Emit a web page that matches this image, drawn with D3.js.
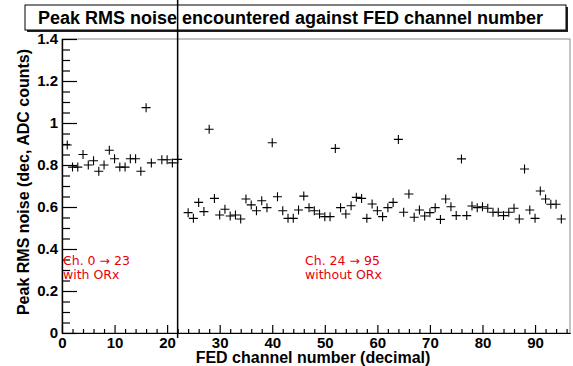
<!DOCTYPE html>
<html>
<head>
<meta charset="utf-8">
<script src="https://cdn.jsdelivr.net/npm/d3@7"></script>
<style>
  body { margin: 0; background: #fff; }
  svg { display: block; }
</style>
</head>
<body>
<svg class="d3-content" width="573" height="366"></svg>
<script>
//data: peak RMS noise per FED channel (null = no marker visible)
const withOrxChannels = d3.range(0, 24)
const withOrxNoise = [null, 0.895, 0.79, 0.79, 0.85, 0.80, 0.82, 0.77, 0.80, 0.87, 0.83, 0.79,
    0.79, 0.83, 0.83, 0.77, 1.073, 0.81, null, 0.825, 0.825, 0.81, 0.827, null]
const withoutOrxChannels = d3.range(24, 96)
const withoutOrxNoise = [0.573, 0.546, 0.622, 0.578, 0.970, 0.641, 0.562, 0.589, 0.557, 0.562,
    0.543, 0.638, 0.610, 0.582, 0.630, 0.597, 0.906, 0.649, 0.582, 0.546,
    0.546, 0.586, 0.652, 0.597, 0.582, 0.567, 0.554, 0.554, 0.879, 0.597,
    0.567, 0.606, 0.646, 0.641, 0.546, 0.614, 0.582, 0.554, 0.597, 0.622,
    0.922, 0.575, 0.662, 0.551, 0.586, 0.557, 0.573, 0.597, 0.541, 0.638,
    0.601, 0.559, 0.829, 0.559, 0.605, 0.597, 0.601, 0.594, 0.575, 0.575,
    0.559, 0.575, 0.594, 0.543, 0.781, 0.586, 0.546, 0.676, 0.638, 0.613,
    0.613, 0.543]
const xMajorTicks = [0, 10, 20, 30, 40, 50, 60, 70, 80, 90]
const yMajorTicks = [0, 0.2, 0.4, 0.6, 0.8, 1, 1.2, 1.4]
const dividerChannel = 22

const title = "Peak RMS noise encountered against FED channel number"
const xTitle = "FED channel number (decimal)"
const yTitle = "Peak RMS noise (dec, ADC counts)"

//dimensions
const w = 573
const h = 366
const margin = { top: 39, right: 3, bottom: 33, left: 62 }
const font = "'Liberation Sans', Arial, Helvetica, sans-serif"

const svg = d3.select('.d3-content')

//scales
const xScale = d3.scaleLinear()
    .domain([0, 96.65])
    .range([margin.left, w - margin.right])
const yScale = d3.scaleLinear()
    .domain([0, 1.4])
    .range([h - margin.bottom, margin.top])

//frame
svg.append('rect')
    .attr('x', margin.left)
    .attr('y', margin.top)
    .attr('width', w - margin.left - margin.right)
    .attr('height', h - margin.top - margin.bottom)
    .attr('fill', 'none')
    .attr('stroke', '#8a8a8a')
    .attr('stroke-width', 1)

//axes (ticks pointing into the frame, like ROOT)
const yMinor = d3.range(0, 1.4001, 0.05).filter(v => Math.abs(v * 5 - Math.round(v * 5)) > 1e-6)
svg.append('g')
    .attr('transform', `translate(${margin.left}, 0)`)
    .call(d3.axisLeft(yScale).tickValues(yMinor).tickSizeInner(-8).tickSizeOuter(0).tickFormat(''))
svg.append('g')
    .attr('class', 'y-axis')
    .attr('transform', `translate(${margin.left}, 0)`)
    .call(d3.axisLeft(yScale).tickValues(yMajorTicks).tickSizeInner(-15).tickSizeOuter(0)
        .tickPadding(4).tickFormat(d3.format('~g')))

const xMinor = d3.range(0, 97, 2).filter(v => v % 10 !== 0)
svg.append('g')
    .attr('transform', `translate(0, ${h - margin.bottom})`)
    .call(d3.axisBottom(xScale).tickValues(xMinor).tickSizeInner(-4).tickSizeOuter(0).tickFormat(''))
svg.append('g')
    .attr('class', 'x-axis')
    .attr('transform', `translate(0, ${h - margin.bottom})`)
    .call(d3.axisBottom(xScale).tickValues(xMajorTicks).tickSizeInner(-8).tickSizeOuter(0)
        .tickPadding(4).tickFormat(d3.format('d')))

svg.selectAll('.domain, .tick line')
    .attr('stroke', '#000')
    .attr('stroke-width', 1.2)
svg.selectAll('.x-axis text, .y-axis text')
    .style('font-family', font)
    .style('font-weight', 'bold')
    .style('font-size', '15px')
    .attr('fill', '#000')

//axis titles
svg.append('text')
    .attr('x', 313)
    .attr('y', 363)
    .attr('text-anchor', 'middle')
    .style('font-family', font)
    .style('font-weight', 'bold')
    .style('font-size', '16px')
    .text(xTitle)

svg.append('text')
    .attr('transform', 'rotate(-90)')
    .attr('x', -182)
    .attr('y', 29)
    .attr('text-anchor', 'middle')
    .style('font-family', font)
    .style('font-weight', 'bold')
    .style('font-size', '16px')
    .text(yTitle)

//title box with drop shadow
svg.append('rect')
    .attr('x', 27)
    .attr('y', 7)
    .attr('width', 541)
    .attr('height', 25)
    .attr('fill', '#222')
svg.append('rect')
    .attr('x', 25)
    .attr('y', 5)
    .attr('width', 541)
    .attr('height', 25)
    .attr('fill', '#fff')
    .attr('stroke', '#000')
    .attr('stroke-width', 1)
svg.append('text')
    .attr('x', 38)
    .attr('y', 24)
    .style('font-family', font)
    .style('font-weight', 'bold')
    .style('font-size', '18px')
    .text(title)

//annotations
const notes = [
    { x: 63, lines: ["Ch. 0 \u2192 23", "with ORx"] },
    { x: 305, lines: ["Ch. 24 \u2192 95", "without ORx"] }
]
notes.forEach(n => {
    n.lines.forEach((t, i) => {
        svg.append('text')
            .attr('x', n.x)
            .attr('y', 265 + i * 14)
            .attr('fill', '#e8000b')
            .style('font-family', "'DejaVu Sans', sans-serif")
            .style('font-size', '12.5px')
            .text(t)
    })
})

//markers
const cross = 'M-4.5,0H4.5M0,-4.5V4.5'
const points = withOrxChannels.map((c, i) => ({ ch: c, v: withOrxNoise[i] }))
    .concat(withoutOrxChannels.map((c, i) => ({ ch: c, v: withoutOrxNoise[i] })))
    .filter(d => d.v !== null)
svg.append('g')
    .selectAll('path')
    .data(points)
    .join('path')
    .attr('transform', d => `translate(${xScale(d.ch)}, ${yScale(d.v)})`)
    .attr('d', cross)
    .attr('fill', 'none')
    .attr('stroke', '#000')
    .attr('stroke-width', 1.1)

//divider line between the two channel groups
svg.append('line')
    .attr('x1', xScale(dividerChannel))
    .attr('x2', xScale(dividerChannel))
    .attr('y1', 0)
    .attr('y2', h - margin.bottom + 5)
    .attr('stroke', '#000')
    .attr('stroke-width', 1.5)
</script>
</body>
</html>
